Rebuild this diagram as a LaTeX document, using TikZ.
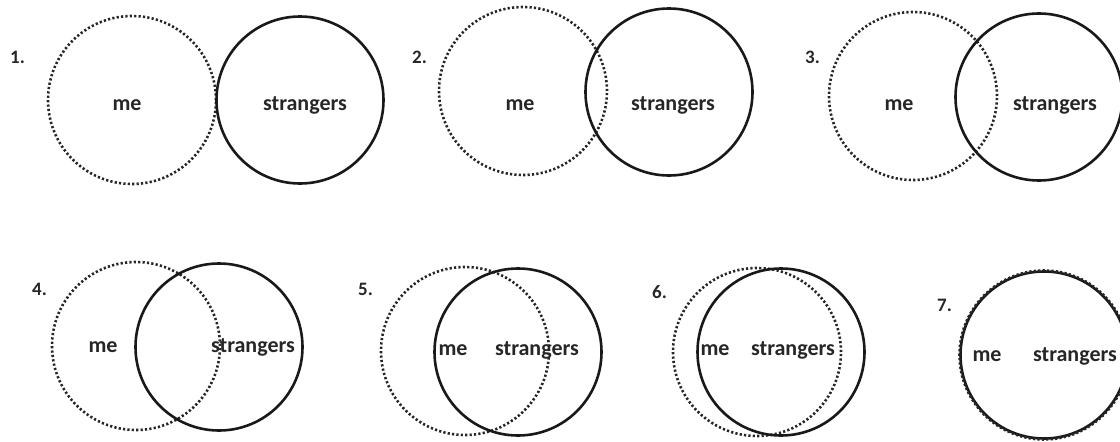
\documentclass[tikz,border=0pt]{standalone}
\usepackage{fontspec}
\setmainfont{Carlito}
\begin{document}
\begin{tikzpicture}[x=1pt,y=-1pt,
  mec/.style={circle,draw=black!85,line width=2.6pt,dash pattern=on 2.2pt off 2.2pt,minimum size=168pt,inner sep=0pt},
  stc/.style={circle,draw=black!90,line width=2.6pt,minimum size=167pt,inner sep=0pt},
  lbl/.style={font=\fontsize{22}{26}\selectfont\bfseries,text=black!85,inner sep=0pt,anchor=base},
  num/.style={font=\fontsize{19}{22}\selectfont\bfseries,text=black!85,inner sep=0pt,anchor=base west}]
\useasboundingbox (0,0) rectangle (1120,442);
% pair 1
\node[mec] (m1) at (132,100) {};
\node[stc] (s1) at (300,100) {};
\node[num] (n1) at (10,63) {1.};
\node[lbl] (tm1) at (127,110) {me};
\node[lbl] (ts1) at (305,110) {strangers};
% pair 2
\node[mec] (m2) at (523,91) {};
\node[stc] (s2) at (669,92) {};
\node[num] (n2) at (412,63) {2.};
\node[lbl] (tm2) at (520,110) {me};
\node[lbl] (ts2) at (673,110) {strangers};
% pair 3
\node[mec] (m3) at (913,96) {};
\node[stc] (s3) at (1039,97) {};
\node[num] (n3) at (805,63) {3.};
\node[lbl] (tm3) at (899,110) {me};
\node[lbl] (ts3) at (1055,110) {strangers};
% pair 4
\node[mec] (m4) at (136,346) {};
\node[stc] (s4) at (219,347) {};
\node[num] (n4) at (32,295) {4.};
\node[lbl] (tm4) at (103,352) {me};
\node[lbl] (ts4) at (253,352) {strangers};
% pair 5
\node[mec] (m5) at (465,351) {};
\node[stc] (s5) at (518,352) {};
\node[num] (n5) at (358,295) {5.};
\node[lbl] (tm5) at (453,355) {me};
\node[lbl] (ts5) at (537,355) {strangers};
% pair 6
\node[mec] (m6) at (757,352) {};
\node[stc] (s6) at (781,352) {};
\node[num] (n6) at (652,298) {6.};
\node[lbl] (tm6) at (715,355) {me};
\node[lbl] (ts6) at (793,355) {strangers};
% pair 7
\node[stc] (s7) at (1044,355) {};
\node[mec,minimum size=169pt] (m7) at (1044,355) {};
\node[num] (n7) at (937,311) {7.};
\node[lbl] (tm7) at (987,361) {me};
\node[lbl] (ts7) at (1075,361) {strangers};
\end{tikzpicture}
\end{document}
